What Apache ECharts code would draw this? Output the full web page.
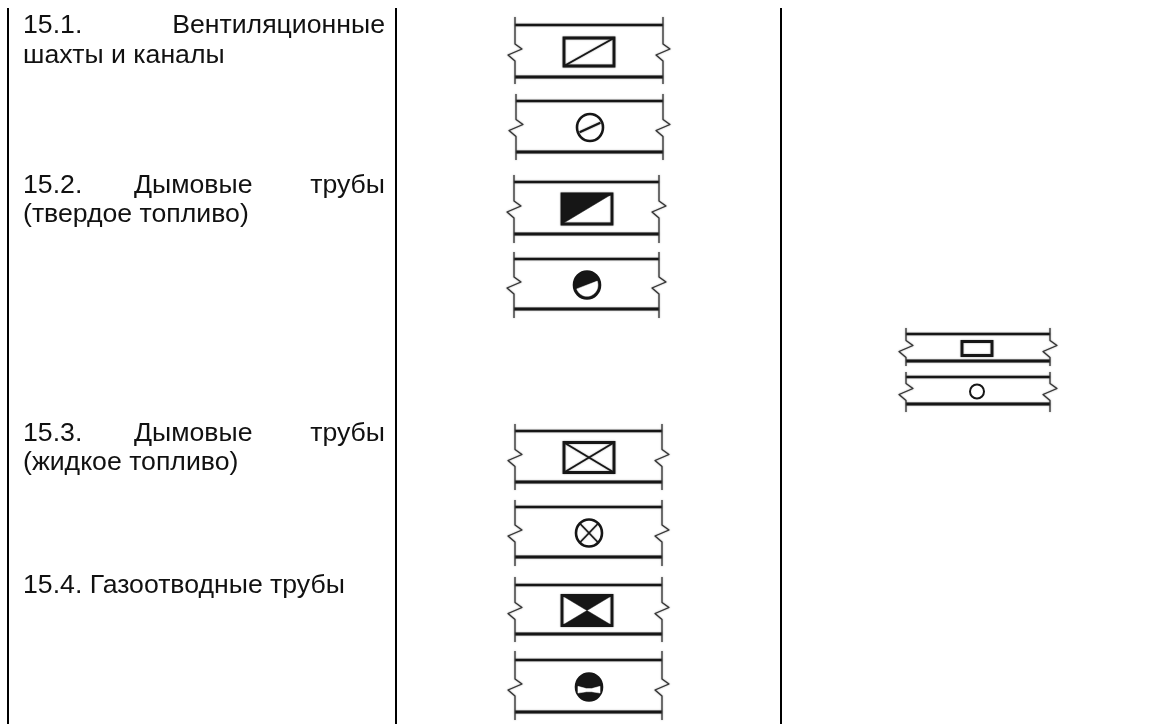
<!DOCTYPE html>
<html><head><meta charset="utf-8">
<style>html,body{margin:0;padding:0;background:#fff}#c{width:1170px;height:724px}</style>
<script src="https://cdn.jsdelivr.net/npm/echarts@6/dist/echarts.min.js"></script>
</head><body><div id="c"></div>
<script>
// Table text, one row per visual line: left word, middle word, right word (justified lines)
const labelLines = [
  ['15.1.', '', 'Вентиляционные'],
  ['шахты и каналы', '', ''],
  ['15.2.', 'Дымовые', 'трубы'],
  ['(твердое топливо)', '', ''],
  ['15.3.', 'Дымовые', 'трубы'],
  ['(жидкое топливо)', '', ''],
  ['15.4. Газоотводные трубы', '', '']
];
const symbolKinds = ['rectLine','circleLine','rectHalf','circleHalf','rectCross','circleCross','rectBow','circleBow','rectPlain','circlePlain'];

const INK = '#161616';
const lineBaselines = [33, 63, 193, 222, 441, 470, 593];
const columnRules = [8, 396, 781];
// layout of each band: left, right, top line, bottom line, rule start, rule end, glyph centre x, half-width, half-height
const bandLayout = [
  [515,663, 25, 77, 17, 84, 589,25,14],
  [516,663,101,152, 94,160, 590,13,13.5],
  [514,659,182,234,175,243, 587,25,15],
  [514,659,259,309,252,318, 587,13,13.5],
  [515,662,431,482,424,490, 589,25,15],
  [515,662,507,557,500,566, 589,13,13.5],
  [515,662,585,634,577,642, 587,25,15],
  [515,662,660,712,651,720, 589,13,13.5],
  [906,1050,334,361,328,366, 977,15,7],
  [906,1050,377,404,372,412, 977,7,7]
];

const SOFT = {shadowBlur:1.5, shadowColor:'rgba(40,40,40,0.6)'};
const gfx = [];
const seg = (pts, w, color) => gfx.push({type:'polyline', shape:{points:pts}, style:{stroke:color||INK, lineWidth:w, fill:null, lineJoin:'round', ...SOFT}, silent:true});
const poly = (pts, color) => gfx.push({type:'polygon', shape:{points:pts}, style:{fill:color||INK, stroke:color||INK, lineWidth:0.5}, silent:true});
const ell = (cx,cy,rx,ry,fill,w) => gfx.push({type:'ellipse', shape:{cx,cy,rx,ry}, style:{fill:fill||'#fff', stroke:INK, lineWidth:w===undefined?2:w}, silent:true});
const box = (x,y,w,h,lw) => gfx.push({type:'rect', shape:{x,y,width:w,height:h}, style:{fill:'#fff', stroke:INK, lineWidth:lw, ...SOFT}, silent:true});

columnRules.forEach(x => gfx.push({type:'rect', shape:{x:x-1,y:8,width:2,height:716}, style:{fill:'#000'}, silent:true}));

function edge(x, top, bot, zy) {
  seg([[x,top],[x,zy-8],[x+7,zy-3],[x-7,zy+3],[x,zy+9],[x,bot]], 1.2, '#333');
}
symbolKinds.forEach((kind, i) => {
  const [l,r,t,b,rs,re,cx,hw,hh] = bandLayout[i];
  const cy = (t+b)/2 + 1;
  seg([[l,t],[r,t]], 2.6);
  seg([[l,b],[r,b]], 3);
  edge(l, rs, re, cy);
  edge(r, rs, re, cy);
  const x0=cx-hw, x1=cx+hw, y0=cy-hh, y1=cy+hh;
  if (kind.startsWith('rect')) {
    box(x0,y0,hw*2,hh*2,2.8);
    if (kind==='rectLine') { seg([[x0,y1],[x1,y0]],1.7); }
    if (kind==='rectHalf') poly([[x0,y0],[x1,y0],[x0,y1]]);
    if (kind==='rectCross') { seg([[x0,y0],[x1,y1]],1.5); seg([[x0,y1],[x1,y0]],1.5); }
    if (kind==='rectBow') { poly([[x0,y0],[x1,y0],[cx,cy]]); poly([[x0,y1],[x1,y1],[cx,cy]]); }
  } else {
    ell(cx,cy,hw,hh,'#fff',kind==='circlePlain'?2:2.6);
    const k = 0.72;
    if (kind==='circleLine') seg([[cx-hw*0.8,cy+hh*0.35],[cx+hw*0.8,cy-hh*0.35]],2);
    if (kind==='circleHalf') {
      ell(cx,cy,hw,hh,INK,0.5);
      const arc = [];
      for (let d = -20; d <= 160; d += 10) {
        const a = d*Math.PI/180;
        arc.push([cx+hw*0.84*Math.cos(a), cy+hh*0.84*Math.sin(a)]);
      }
      poly(arc,'#fff');
    }
    if (kind==='circleCross') { seg([[cx-hw*k,cy-hh*k],[cx+hw*k,cy+hh*k]],1.5); seg([[cx-hw*k,cy+hh*k],[cx+hw*k,cy-hh*k]],1.5); }
    if (kind==='circleBow') {
      ell(cx,cy,hw,hh,INK,0.5);
      poly([[cx-hw*0.85,cy-hh*0.05],[cx-hw*0.2,cy+hh*0.12],[cx+hw*0.2,cy+hh*0.12],[cx+hw*0.85,cy-hh*0.05],[cx+hw*0.85,cy+hh*0.45],[cx+hw*0.2,cy+hh*0.35],[cx-hw*0.2,cy+hh*0.35],[cx-hw*0.85,cy+hh*0.45]],'#fff');
    }
  }
});

const TEXT_L = 23, TEXT_M = 134, TEXT_R = 385, FONT_PX = 26.67;
labelLines.forEach((ln, i) => {
  const y = lineBaselines[i] - 7;
  const put = (text, x, align) => { if (text) gfx.push({type:'text', x, y, style:{text, fontSize:FONT_PX, fontFamily:'"Liberation Sans", Arial, sans-serif', fill:'#111', align, verticalAlign:'middle'}, silent:true}); };
  put(ln[0], TEXT_L, 'left');
  put(ln[1], TEXT_M, 'left');
  put(ln[2], TEXT_R, 'right');
});

const chart = echarts.init(document.getElementById('c'), null, {renderer:'canvas'});
chart.setOption({animation:false, backgroundColor:'#fff', graphic:{elements:gfx}});
</script></body></html>
